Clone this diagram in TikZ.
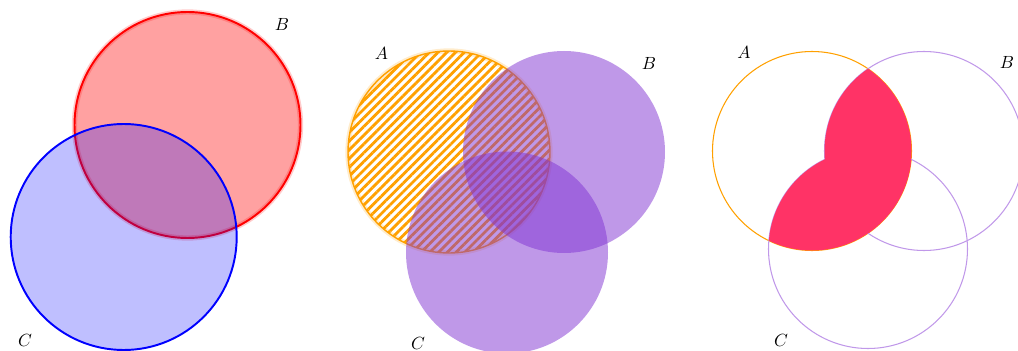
\documentclass[tikz,border=0pt]{standalone}
\usetikzlibrary{patterns.meta}
\definecolor{myorange}{RGB}{255,160,0}
\definecolor{mypurple}{RGB}{128,50,210}
\definecolor{mypink}{RGB}{255,51,102}
\begin{document}
\begin{tikzpicture}[x=0.568pt,y=-0.568pt,
  lbl/.style={inner sep=0pt},
  glow/.style={opacity=0.2,line width=3pt},
  thinline/.style={line width=0.6pt},
  purplefill/.style={fill=mypurple,fill opacity=0.5}]
\useasboundingbox (0,0) rectangle (1018,351);
% ---------- panel 1
\coordinate (B1) at (187.5,125);
\coordinate (C1) at (123.7,237);
\fill[red, fill opacity=0.37] (B1) circle (113);
\draw[red, glow] (B1) circle (113);
\draw[red, line width=1.1pt] (B1) circle (113);
\fill[blue, fill opacity=0.25] (C1) circle (113);
\draw[blue, line width=1.1pt] (C1) circle (113);
\node[lbl] (lB1) at (282,24) {$B$};
\node[lbl] (lC1) at (25,340) {$C$};
% ---------- panel 2
\coordinate (A2) at (449,152);
\coordinate (B2) at (564,152);
\coordinate (C2) at (507,252.5);
\pattern[pattern={Lines[angle=45,distance=3.5pt,line width=1.6pt]}, pattern color=myorange] (A2) circle (101);
\draw[myorange, glow] (A2) circle (101);
\draw[myorange, line width=0.8pt] (A2) circle (101);
\fill[purplefill] (B2) circle (101);
\fill[purplefill] (C2) circle (101);
\node[lbl] (lA2) at (381.5,53) {$A$};
\node[lbl] (lB2) at (649,63) {$B$};
\node[lbl] (lC2) at (418,343) {$C$};
% ---------- panel 3
\coordinate (A3) at (812,151);
\coordinate (B3) at (924,151);
\coordinate (C3) at (868,249);
\draw[myorange, thinline] (A3) circle (99.5);
\draw[mypurple!50, thinline] (B3) circle (99.5);
\draw[mypurple!50, thinline] (C3) circle (99.5);
\begin{scope}
  \clip (A3) circle (99.5);
  \fill[mypink] (B3) circle (99.5);
  \fill[mypink] (C3) circle (99.5);
\end{scope}
\node[lbl] (lA3) at (744,52.5) {$A$};
\node[lbl] (lB3) at (1007,62) {$B$};
\node[lbl] (lC3) at (781,340) {$C$};
\end{tikzpicture}
\end{document}
